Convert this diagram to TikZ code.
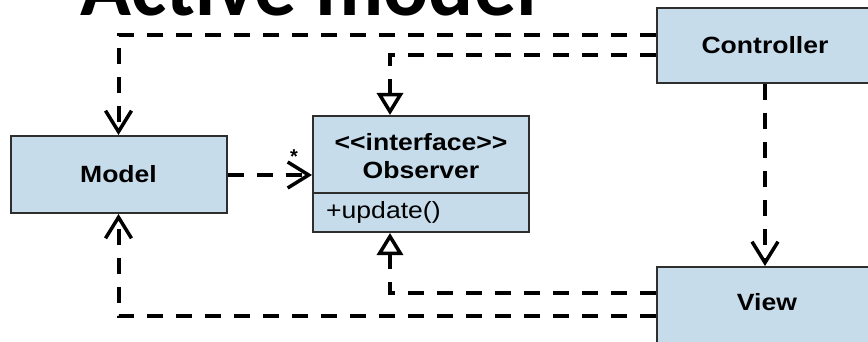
\documentclass[tikz,border=0pt]{standalone}
\usepackage{fontspec}
\usepackage{graphicx}
\newfontfamily\lsans{Liberation Sans}
\newfontfamily\titlefont{Carlito}
\usetikzlibrary{arrows.meta,calc}
\definecolor{boxblue}{HTML}{C6DCEB}
\definecolor{boxline}{HTML}{2E2E2E}
\newcommand{\hstretch}[1]{\scalebox{1.13}[1]{#1}}
\begin{document}
\begin{tikzpicture}[x=1pt,y=-1pt,
  cls/.style={draw=boxline,line width=2pt,fill=boxblue,minimum width=216pt,minimum height=77pt,inner sep=0pt},
  lbl/.style={inner sep=0pt,font=\lsans\fontsize{23.5}{26}\selectfont\bfseries},
  lblr/.style={inner sep=0pt,font=\lsans\fontsize{23.5}{26}\selectfont},
  dep/.style={line width=4pt,dash pattern=on 16pt off 13pt},
  vtip/.style={-{Straight Barb[length=21pt,width=26pt,line width=3.5pt]}},
  ttip/.style={-{Triangle[open,length=22pt,width=26pt,line width=3.5pt,fill=white]}}]
\useasboundingbox (0,0) rectangle (868,342);
\clip (0,0) rectangle (868,342);
\fill[white] (0,0) rectangle (868,342);
% title
\node[anchor=base west,inner sep=0pt,font=\titlefont\fontsize{84}{84}\selectfont\bfseries] (title) at (80,16) {Active model};
% boxes
\node[cls] (model) at (118.5,174.5) {};
\node[lbl] (modeltxt) at (model.center) {\hstretch{Model}};
\node[cls,minimum height=116pt] (obs) at (421,174) {};
\coordinate (sep) at (0,193);
\draw[boxline,line width=2pt] (obs.west |- sep) -- (obs.east |- sep);
\node[lbl] (obsst) at (421,142) {\hstretch{<<interface>>}};
\node[lbl] (obsname) at (421,170) {\hstretch{Observer}};
\node[lblr,anchor=west] (obsop) at (326,212) {\hstretch{+update()}};
\node[cls,minimum height=75pt] (ctrl) at (765,45.5) {};
\node[lbl] (ctrltxt) at (765,45) {\hstretch{Controller}};
\node[cls,minimum height=80pt] (view) at (765,307) {};
\node[lbl] (viewtxt) at (767,302) {\hstretch{View}};
% connectors
\coordinate (t1) at (118.5,35);
\coordinate (t2) at (390,55);
\coordinate (b1) at (390,293);
\coordinate (b2) at (118.5,316);
\draw[dep,vtip] (t1 -| ctrl.west) -- (t1) -- (model.north);
\draw[dep,ttip] (t2 -| ctrl.west) -- (t2) -- (t2 |- obs.north);
\draw[dep,vtip] (ctrl.south) -- (view.north);
\draw[dep,vtip] (b2 -| view.west) -- (b2) -- (model.south);
\draw[dep,ttip] (b1 -| view.west) -- (b1) -- (b1 |- obs.south);
\draw[dep,vtip] (model.east |- 0,175) -- (obs.west |- 0,175);
\node[anchor=base,inner sep=0pt,font=\lsans\fontsize{20}{20}\selectfont\bfseries] (star) at (294,164) {*};
\end{tikzpicture}
\end{document}
